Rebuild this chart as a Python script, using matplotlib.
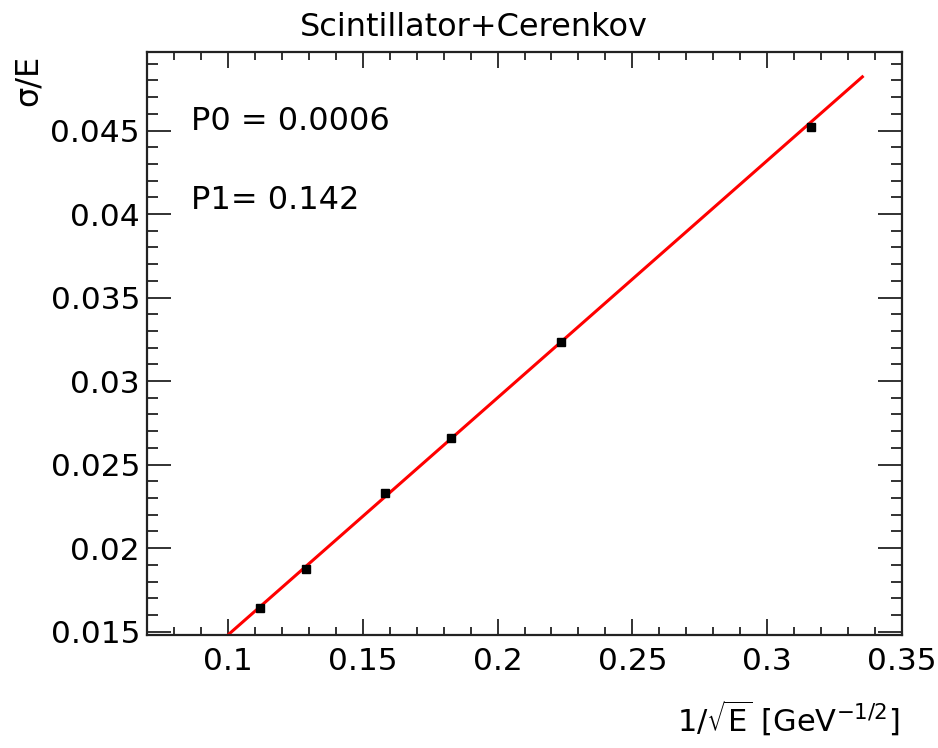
import matplotlib
matplotlib.use("Agg")
import matplotlib.pyplot as plt
import numpy as np
from matplotlib.ticker import MultipleLocator

plt.rcParams['font.family'] = ['DejaVu Sans']
plt.rcParams['mathtext.fontset'] = 'dejavusans'

# Measured resolution versus 1/sqrt(E)
inv_sqrt_e = [0.3162, 0.2236, 0.1826, 0.1581, 0.1291, 0.1118]
sigma_over_e = [0.04524, 0.03235, 0.02658, 0.02329, 0.01875, 0.01640]
sigma_err = [0.00012, 0.00006, 0.00005, 0.00005, 0.00004, 0.00004]

# Linear fit parameters: sigma/E = P0 + P1 / sqrt(E)
p0 = 0.0006
p1 = 0.142
fit_range = [0.1, 0.3353]

fig = plt.figure(figsize=(9.38, 7.48), dpi=100)
W, H = 938, 748
left, right, top, bottom = 147, 902, 52, 635
ax = fig.add_axes([left / W, 1 - bottom / H, (right - left) / W, (bottom - top) / H])

ax.set_xlim(0.07, 0.35)
ax.set_ylim(0.0148, 0.0497)

xf = np.linspace(fit_range[0], fit_range[1], 200)
ax.plot(xf, p0 + p1 * xf, color='#ff0000', lw=2.2, zorder=2)

ax.errorbar(inv_sqrt_e, sigma_over_e, yerr=sigma_err, fmt='s', color='black',
            ms=5.5, elinewidth=1.5, capsize=0, zorder=3)

ax.xaxis.set_major_locator(MultipleLocator(0.05))
ax.xaxis.set_minor_locator(MultipleLocator(0.01))
ax.yaxis.set_major_locator(MultipleLocator(0.005))
ax.yaxis.set_minor_locator(MultipleLocator(0.001))

ax.xaxis.set_major_formatter(plt.FuncFormatter(lambda v, p: f"{v:.3f}".rstrip('0').rstrip('.')))
ax.yaxis.set_major_formatter(plt.FuncFormatter(lambda v, p: f"{v:.4f}".rstrip('0').rstrip('.')))

ax.tick_params(axis='both', which='both', direction='in', top=True, right=True,
               labelsize=22.5, width=1.3, color='#222222')
ax.tick_params(axis='x', which='major', length=11.5, pad=9)
ax.tick_params(axis='x', which='minor', length=5.8)
ax.tick_params(axis='y', which='major', length=17.5, pad=5)
ax.tick_params(axis='y', which='minor', length=8)
for s in ax.spines.values():
    s.set_linewidth(1.6)
    s.set_color('#222222')

fig.text(474 / W, 1 - 28 / H, 'Scintillator+Cerenkov', ha='center', va='center', fontsize=23)
fig.text(28 / W, 1 - 55 / H, 'σ/E', ha='center', va='top', rotation=90, fontsize=23)
fig.text(900 / W, 1 - 718 / H, r'1/$\sqrt{\mathrm{E}}$ [GeV$^{\mathrm{-1/2}}$]',
         ha='right', va='center', fontsize=22)

fig.text(191 / W, 1 - 130 / H, f'P0 = {p0}', ha='left', va='baseline', fontsize=23)
fig.text(191 / W, 1 - 209 / H, f'P1= {p1}', ha='left', va='baseline', fontsize=23)

fig.savefig('out.png', dpi=100)
